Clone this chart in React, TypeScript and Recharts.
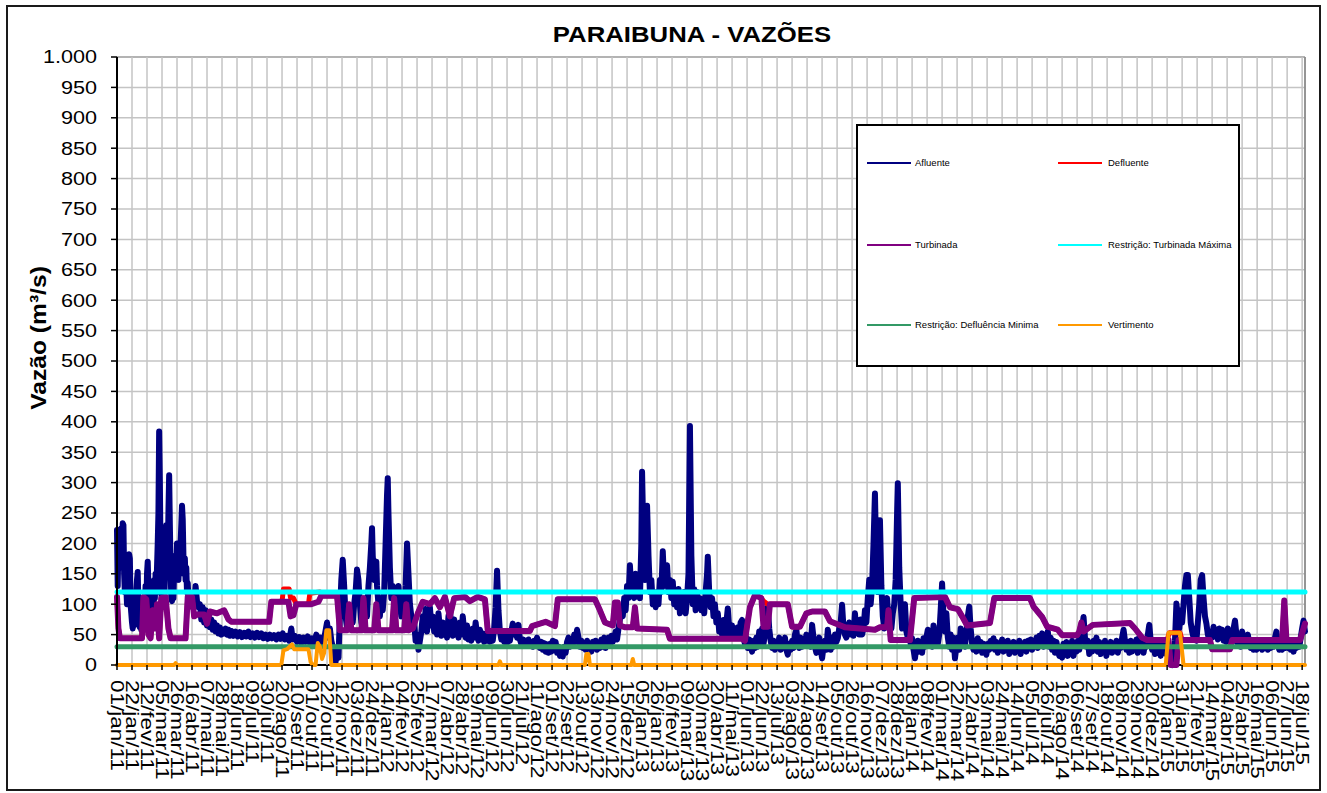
import React from 'react';
import { LineChart, Line, XAxis, YAxis, CartesianGrid, Legend, ReferenceLine } from 'recharts';

const FONT = '"Liberation Sans", Arial, sans-serif';

// x = day offset from 01/jan/11
const xTickLabels = [
  '01/jan/11','22/jan/11','12/fev/11','05/mar/11','26/mar/11','16/abr/11','07/mai/11','28/mai/11','18/jun/11','09/jul/11',
  '30/jul/11','20/ago/11','10/set/11','01/out/11','22/out/11','12/nov/11','03/dez/11','24/dez/11','14/jan/12','04/fev/12',
  '25/fev/12','17/mar/12','07/abr/12','28/abr/12','19/mai/12','09/jun/12','30/jun/12','21/jul/12','11/ago/12','01/set/12',
  '22/set/12','13/out/12','03/nov/12','24/nov/12','15/dez/12','05/jan/13','26/jan/13','16/fev/13','09/mar/13','30/mar/13',
  '20/abr/13','11/mai/13','01/jun/13','22/jun/13','13/jul/13','03/ago/13','24/ago/13','14/set/13','05/out/13','26/out/13',
  '16/nov/13','07/dez/13','28/dez/13','18/jan/14','08/fev/14','01/mar/14','22/mar/14','12/abr/14','03/mai/14','24/mai/14',
  '14/jun/14','05/jul/14','26/jul/14','16/ago/14','06/set/14','27/set/14','18/out/14','08/nov/14','29/nov/14','20/dez/14',
  '10/jan/15','31/jan/15','21/fev/15','14/mar/15','04/abr/15','25/abr/15','16/mai/15','06/jun/15','27/jun/15','18/jul/15',
];
const xTicks = xTickLabels.map((_, i) => i * 21);
const lastDay = 1663;

const yTicks = [0,50,100,150,200,250,300,350,400,450,500,550,600,650,700,750,800,850,900,950,1000];
const yTickLabels = ['0','50','100','150','200','250','300','350','400','450','500','550','600','650','700','750','800','850','900','950','1.000'];

const seriesNames = ['Afluente','Defluente','Turbinada','Restrição: Turbinada Máxima','Restrição: Defluência Minima','Vertimento'];
const seriesColors = ['#000080','#FF0000','#800080','#00FFFF','#339966','#FF9900'];

const afluente = [
  [0,222],[1,130],[2,205],[3,160],[4,218],[5,180],[6,225],[7,200],[8,233],[9,230],[10,150],[11,120],[12,165],[13,130],[14,100],[15,150],[16,120],[17,182],[18,175],[19,100],[20,85],
  [21,70],[22,60],[23,80],[24,65],[25,95],[26,70],[27,120],[28,140],[29,153],[30,100],[31,75],[32,62],[33,70],[34,58],[35,65],[36,55],[37,80],[38,60],[39,100],[40,130],[41,90],[42,150],[43,170],[44,130],[45,95],[46,80],[47,65],[48,90],[49,70],[50,110],[51,85],[52,140],[53,110],[54,150],[55,120],[56,160],[57,200],
  [58,250],[59,384],[60,300],[61,180],[62,120],[63,105],[64,150],[65,110],[66,100],[67,140],[68,200],[69,230],[70,150],[71,180],[72,250],[73,312],[74,230],[75,160],[76,110],[77,105],[78,130],[79,110],[80,160],[81,140],[82,180],[83,150],[84,200],[85,160],[86,140],[87,170],[88,150],[89,200],[90,230],[91,262],[92,240],[93,180],[94,150],[95,175],[96,140],[97,160],[98,120],[99,135],[100,110],[101,120],[102,100],[104,110],[106,95],[108,100],[110,130],[112,105],[114,95],[116,100],
  [118,75],[120,95],[122,70],[124,90],[126,65],[128,85],[130,62],[132,75],[134,58],[136,70],[138,55],[140,65],[142,52],[144,62],[146,50],[148,58],[150,52],[152,60],[154,50],[156,58],[158,48],[160,56],[163,48],[166,55],[169,47],[172,54],[175,46],[178,53],[181,47],[184,55],[187,46],[190,52],[193,45],[196,53],[199,46],[202,52],[205,44],[208,50],[211,43],[214,50],[217,44],[220,49],[223,42],[226,50],[229,43],[232,52],[235,42],[238,48],[241,40],[244,60],[246,42],[249,48],[252,38],[255,46],[258,36],[261,45],[264,38],[267,47],[270,36],[273,44],[276,35],[279,50],[282,38],[285,45],[288,36],[291,50],[294,70],[296,45],[298,60],[300,40],[302,30],[304,15],[306,5],[308,25],[310,12],
  [312,80],[314,140],[316,173],[318,130],[320,80],[322,60],[324,75],[326,60],[328,90],[330,70],[332,100],[334,120],[336,157],[338,140],[340,100],[342,70],[344,60],[346,90],[348,110],[350,80],[352,130],[354,160],[356,200],[357,225],[358,180],[360,140],[362,160],[363,170],[364,130],[366,100],[368,80],[370,110],[372,90],[374,120],[376,200],[378,280],[379,307],[380,250],[382,160],[384,110],[386,130],[388,100],[390,125],[392,95],[394,130],[396,100],[398,80],[400,110],[402,90],[404,130],[406,200],[408,150],[410,100],[412,80],[414,60],[416,70],[418,40],[420,50],[422,25],[424,40],[426,55],
  [428,80],[430,60],[432,92],[434,55],[436,85],[438,95],[440,65],[442,80],[444,55],[446,70],[448,50],[450,85],[452,60],[454,48],[456,70],[458,50],[460,65],[462,45],[464,80],[466,92],[468,60],[470,48],[472,75],[474,50],[476,65],[478,45],[480,70],[482,50],[484,80],[486,55],[488,45],[490,65],[492,42],[494,55],[496,40],[498,60],[500,45],[502,70],[504,48],[506,40],[508,58],[510,42],[512,52],[514,38],[516,50],[518,40],[520,55],[522,38],[524,48],[526,40],[528,60],[530,95],[532,155],[534,90],[536,55],
  [538,42],[540,50],[542,38],[544,48],[546,36],[548,45],[550,40],[552,55],[554,68],[556,50],[558,62],[560,45],[562,66],[564,42],[566,35],[568,42],[570,33],[572,40],[574,35],[576,42],[578,33],[580,38],[582,30],[584,40],[586,32],[588,45],[590,35],[592,28],[594,38],[596,25],[598,36],[600,22],[602,34],[604,20],[606,35],[608,22],[610,40],[612,25],[614,38],[616,20],[618,30],[620,15],[622,25],[624,14],[626,30],[628,20],[630,38],[632,45],[634,30],[636,40],[638,32],[640,50],[642,38],[644,58],[646,45],[648,30],[650,40],[652,28],[654,36],[656,25],[658,40],[660,28],[662,35],[664,22],[666,38],[668,28],[670,40],[672,25],[674,35],[676,28],[678,42],[680,30],[682,45],[684,28],[686,40],[688,45],[690,35],[692,48],[694,38],[696,45],[698,55],[700,42],[702,60],[704,75],
  [706,95],[708,80],[710,110],[712,90],[714,130],[716,110],[718,164],[720,120],[722,140],[724,110],[726,150],[728,120],[730,135],[732,110],[734,200],[735,318],[737,200],[739,140],[741,220],[742,262],[744,180],[746,120],[748,140],[750,100],[752,115],[754,95],[756,120],[758,100],[760,140],[762,120],[764,187],[766,130],[768,150],[770,164],[772,120],[774,140],[776,110],[778,137],[780,100],[782,120],[784,95],[786,125],[788,85],[790,110],[792,90],[794,120],[796,85],[798,110],[800,150],[802,393],[804,180],[806,100],[808,125],[810,90],[812,120],[814,95],[816,110],[818,90],[820,105],[822,85],[824,120],[826,150],[827,178],[829,120],[831,95],[833,110],[835,80],[837,100],[839,70],[841,85],[843,55],[845,70],[847,50],[849,74],[851,45],[853,70],[855,93],[857,60],[859,48],[861,65],[863,45],[865,60],[867,48],[869,62],
  [871,50],[873,70],[875,74],[877,45],[879,35],[881,45],[883,28],[885,42],[887,30],[889,22],[891,40],[893,28],[895,45],[897,30],[899,55],[901,40],[903,60],[905,35],[907,50],[909,70],[911,95],[913,60],[915,40],[917,28],[919,40],[921,25],[923,38],[925,30],[927,45],[929,25],[931,40],[933,30],[935,45],[937,25],[939,17],[941,35],[943,25],[945,40],[947,28],[949,50],[951,58],[953,35],[955,28],[957,45],[959,30],[961,40],[963,32],[965,50],[967,35],[969,45],[971,30],[973,66],[975,45],[977,30],[979,20],[981,35],[983,45],[985,25],[987,11],[989,30],[991,40],[993,25],[995,58],[997,35],[999,25],[1001,45],[1003,30],[1005,50],[1007,38],[1009,44],[1011,60],[1013,70],[1015,99],[1017,60],[1019,50],[1021,45],[1023,60],[1025,70],[1027,50],[1029,65],[1031,48],[1033,85],[1035,55],[1037,70],[1039,50],[1041,75],[1043,50],[1045,60],
  [1047,90],[1049,70],[1051,110],[1053,140],[1055,100],[1057,130],[1059,200],[1061,282],[1063,160],[1065,120],[1067,200],[1068,238],[1070,130],[1072,80],[1074,60],[1076,100],[1078,110],[1080,70],[1082,90],[1084,60],[1086,85],[1088,100],[1090,140],[1092,250],[1093,299],[1095,160],[1097,100],[1099,60],[1101,90],[1103,100],[1105,55],[1107,45],[1109,60],
  [1111,35],[1113,44],[1115,25],[1117,11],[1119,30],[1121,40],[1123,22],[1125,35],[1127,20],[1129,44],[1131,30],[1133,45],[1135,58],[1137,35],[1139,50],[1141,30],[1143,65],[1145,40],[1147,55],[1149,35],[1151,50],[1153,90],[1155,134],[1157,80],[1159,55],[1161,85],[1163,45],[1165,30],[1167,50],[1169,25],[1171,45],[1173,11],[1175,30],[1177,45],[1179,25],
  [1181,60],[1183,35],[1185,50],[1187,30],[1189,55],[1191,80],[1193,96],[1195,60],[1197,35],[1199,25],[1201,40],[1203,22],[1205,44],[1207,25],[1209,38],[1211,20],[1213,35],[1215,22],[1217,17],[1219,35],[1221,25],[1223,40],[1225,28],[1227,44],[1229,25],[1231,38],[1233,20],[1235,35],[1237,25],[1239,42],[1241,22],[1243,38],[1245,28],[1247,40],[1249,18],[1251,35],[1253,25],[1255,38],[1257,20],[1259,33],[1261,26],[1263,40],[1265,18],[1267,35],[1269,25],[1271,38],[1273,22],[1275,40],[1277,28],[1279,42],[1281,25],[1283,38],[1285,30],[1287,45],[1289,28],[1291,48],[1293,35],[1295,52],[1297,30],[1299,45],[1301,32],[1303,55],[1305,30],[1307,45],[1309,25],[1311,40],[1313,20],[1315,38],[1317,25],[1319,15],[1321,30],[1323,12],[1325,35],[1327,20],[1329,38],[1331,15],[1333,35],[1335,20],[1337,40],[1339,15],[1341,32],[1343,22],[1345,40],[1347,25],[1349,45],[1351,60],[1353,79],[1355,45],[1357,30],[1359,40],[1361,18],[1363,35],[1365,22],[1367,40],[1369,25],[1371,45],[1373,22],[1375,38],[1377,18],[1379,35],[1381,22],[1383,40],[1385,15],[1387,32],[1389,22],[1391,38],[1393,20],[1395,35],[1397,25],[1399,40],[1401,20],[1403,35],[1405,28],[1407,45],[1409,58],[1411,40],[1413,25],[1415,38],[1417,20],[1419,40],[1421,22],[1423,36],[1425,25],[1427,42],[1429,20],[1431,45],[1433,25],[1435,38],[1437,20],[1439,35],[1441,30],[1443,50],[1445,66],[1447,40],[1449,25],[1451,35],[1453,18],[1455,32],[1457,20],[1459,35],[1461,15],[1463,30],[1465,20],[1467,35],[1469,18],
  [1471,25],[1473,8],[1475,2],[1477,0],[1479,10],[1481,40],[1483,101],[1485,80],[1487,60],[1489,90],[1491,70],[1493,100],[1495,130],[1497,148],[1499,148],[1501,110],[1503,70],[1505,55],[1507,45],[1509,60],[1511,40],[1513,70],[1515,100],[1517,140],[1519,148],[1521,110],[1523,80],[1525,68],[1527,50],[1529,41],[1531,55],[1533,45],[1535,63],[1537,48],[1539,58],[1541,42],[1543,60],[1545,45],[1547,58],[1549,40],[1551,52],[1553,38],[1555,60],[1557,42],[1559,50],[1561,38],[1563,60],[1565,73],[1567,50],[1569,35],[1571,45],[1573,30],[1575,55],[1577,40],[1579,48],[1581,32],[1583,50],[1585,35],[1587,28],[1589,40],[1591,25],[1593,38],[1595,25],[1597,35],[1599,28],[1601,40],[1603,25],[1605,38],[1607,28],[1609,40],[1611,25],[1613,35],[1615,28],[1617,38],[1619,30],[1621,45],[1623,55],[1625,35],[1627,25],[1629,35],[1631,25],[1633,38],[1635,28],[1637,40],[1639,28],[1641,41],[1643,25],[1645,35],[1647,22],[1649,35],[1651,28],[1653,38],[1655,30],[1657,45],[1659,60],[1661,73],[1663,55],
];

const turbinada = [
  [0,112],[2,60],[4,44],[35,44],[37,112],[41,108],[44,50],[47,44],[50,90],[53,60],[56,100],[59,44],[62,110],[68,112],[72,60],[75,44],[96,44],[99,112],[105,112],[108,80],[112,83],[122,83],[126,68],[130,88],[140,85],[150,90],[156,75],[160,71],[213,71],[216,104],[240,104],[243,80],[247,82],[251,100],[272,100],[282,104],[286,114],[308,114],[312,57],[322,57],[325,100],[328,57],[342,57],[345,110],[348,57],[360,57],[363,100],[366,57],[385,57],[388,110],[391,57],[402,57],[405,100],[408,57],[414,60],[421,85],[428,104],[438,100],[445,110],[452,95],[459,112],[466,80],[472,110],[487,112],[494,105],[505,112],[515,108],[519,56],[578,56],[581,64],[592,68],[600,71],[613,64],[617,108],[669,108],[676,90],[683,70],[694,65],[697,103],[701,103],[704,65],[711,62],[722,62],[725,95],[728,60],[770,58],[774,43],[875,43],[879,40],[886,95],[893,115],[902,110],[905,63],[911,63],[914,100],[935,100],[939,100],[945,63],[956,63],[965,85],[973,88],[991,88],[998,72],[1019,62],[1061,58],[1068,62],[1078,62],[1080,90],[1083,41],[1110,41],[1116,110],[1159,112],[1166,95],[1177,92],[1183,80],[1190,65],[1222,69],[1228,110],[1278,110],[1283,96],[1295,79],[1302,63],[1317,58],[1323,49],[1344,49],[1347,55],[1350,70],[1353,55],[1366,66],[1418,69],[1425,60],[1435,45],[1442,41],[1472,41],[1475,0],[1483,0],[1486,41],[1530,41],[1533,26],[1558,26],[1561,41],[1631,41],[1634,106],[1637,41],[1656,41],[1663,68],
];

const defluente = [
  [0,112],[2,60],[4,44],[35,44],[37,112],[41,108],[44,50],[47,44],[50,90],[53,60],[56,100],[59,44],[62,110],[68,112],[72,60],[75,44],[96,44],[99,112],[105,112],[108,80],[112,83],[122,83],[126,68],[130,88],[140,85],[150,90],[156,75],[160,71],[213,71],[216,104],[231,104],[233,125],[241,125],[243,110],[247,110],[251,100],[268,100],[270,118],[284,120],[287,114],[308,114],[312,57],[322,57],[325,100],[328,57],[342,57],[345,110],[348,57],[360,57],[363,100],[366,57],[385,57],[388,110],[391,57],[402,57],[405,100],[408,57],[414,60],[421,85],[428,104],[438,100],[445,110],[452,95],[459,112],[466,80],[472,110],[487,112],[494,105],[505,112],[515,108],[519,56],[578,56],[581,64],[592,68],[600,71],[613,64],[617,108],[669,108],[676,90],[683,70],[694,65],[697,103],[701,103],[704,65],[711,62],[722,62],[725,95],[728,60],[770,58],[774,43],[875,43],[879,40],[886,95],[893,115],[902,110],[905,105],[911,100],[914,100],[935,100],[939,100],[945,63],[956,63],[965,85],[973,88],[991,88],[998,72],[1019,62],[1061,58],[1068,62],[1078,62],[1080,90],[1083,41],[1110,41],[1116,110],[1159,112],[1166,95],[1177,92],[1183,80],[1190,65],[1222,69],[1228,110],[1278,110],[1283,96],[1295,79],[1302,63],[1317,58],[1323,49],[1344,49],[1347,55],[1350,70],[1353,55],[1366,66],[1418,69],[1425,60],[1435,45],[1442,41],[1470,41],[1473,53],[1488,53],[1491,41],[1530,41],[1533,26],[1558,26],[1561,41],[1631,41],[1634,106],[1637,41],[1656,41],[1663,68],
];

const turbinadaMaxima = [[0,120],[1663,120]];
const defluenciaMinima = [[0,30],[1663,30]];

const vertimento = [
  [0,0],[80,0],[82,3],[84,0],[230,0],[233,24],[238,26],[245,34],[248,26],[268,26],[271,5],[274,0],[278,0],[281,36],[284,30],[287,10],[290,20],[293,57],[297,57],[300,0],[534,0],[536,6],[538,0],[655,0],[657,18],[660,18],[662,0],[720,0],[722,10],[724,0],[1468,0],[1472,53],[1488,53],[1493,0],[1663,0],
];

const rows = (pts: number[][]) => pts.map(([d, v]) => ({ d, v }));

const XTick = (props: any) => {
  const { x, y, payload } = props;
  const label = xTickLabels[Math.round(payload.value / 21)] ?? '';
  return (
    <g transform={`translate(${x},${y}) rotate(90)`}>
      <text x={0} y={0} transform="scale(1.25,1)" textAnchor="start" dominantBaseline="central"
        fontSize={18} fontFamily={FONT} fill="#000">{label}</text>
    </g>
  );
};

const YTick = (props: any) => {
  const { x, y, payload } = props;
  const idx = yTicks.indexOf(payload.value);
  return (
    <g transform={`translate(${x},${y})`}>
      <text x={0} y={0} transform="scale(1.2,1)" textAnchor="end" dominantBaseline="central"
        fontSize={18} fontFamily={FONT} fill="#000">{yTickLabels[idx]}</text>
    </g>
  );
};

// horizontal grid lines; the one at the bottom doubles as the category axis line (kept under the series)
const HLine = (props: any) => {
  const { x1, y1, x2, y2 } = props;
  const isBottom = y1 > 660;
  const isTop = y1 < 60;
  return (
    <line x1={x1} y1={y1} x2={x2} y2={y2}
      stroke={isBottom ? '#000' : isTop ? '#9a9a9a' : '#c4c4c4'}
      strokeWidth={isBottom ? 2 : 1.5} />
  );
};

const LegendBox = () => {
  const rowsY = [37, 119, 199];
  const colLine = [9, 200];
  const colText = [57, 250];
  return (
    <div style={{ width: 384, height: 243, border: '2px solid #000', boxSizing: 'border-box', background: '#fff', position: 'relative', fontFamily: FONT }}>
      {seriesNames.map((name, i) => {
        const r = Math.floor(i / 2);
        const c = i % 2;
        return (
          <React.Fragment key={name}>
            <div style={{ position: 'absolute', left: colLine[c], top: rowsY[r] - 1, width: 44, height: 2, background: seriesColors[i] }} />
            <div style={{ position: 'absolute', left: colText[c], top: rowsY[r] - 7, fontSize: 9.5, lineHeight: '14px', color: '#000', whiteSpace: 'nowrap' }}>{name}</div>
          </React.Fragment>
        );
      })}
    </div>
  );
};

export default function App() {
  const lineCommon = { type: 'linear' as const, dataKey: 'v', dot: false, activeDot: false, isAnimationActive: false, strokeLinejoin: 'round', strokeLinecap: 'round' } as any;
  return (
    <div style={{ position: 'absolute', left: 0, top: 0, width: 1327, height: 793, background: '#fff', fontFamily: FONT }}>
      <div style={{ position: 'absolute', left: 6, top: 5, width: 1315, height: 786, border: '2px solid #1a1a1a', boxSizing: 'border-box' }} />
      <div style={{ position: 'absolute', left: 0, top: 0 }}>
        <LineChart width={1327} height={793} margin={{ top: 57, right: 22, bottom: 0, left: 0 }}>
          <CartesianGrid stroke="#c4c4c4" strokeWidth={1.5} horizontal={HLine} />
          <XAxis dataKey="d" type="number" domain={[0, lastDay]} ticks={xTicks} interval={0}
            height={128} tickSize={5} tickMargin={10} tick={<XTick />} axisLine={false}
            tickLine={{ stroke: '#000', strokeWidth: 1.5 }} />
          <YAxis type="number" domain={[0, 1000]} ticks={yTicks} interval={0} width={117}
            tickSize={6} tickMargin={14} tick={<YTick />} axisLine={{ stroke: '#000', strokeWidth: 2 }}
            tickLine={{ stroke: '#000', strokeWidth: 1.5 }} />
          <ReferenceLine x={lastDay} stroke="#808080" strokeWidth={1.5} />
          <Line {...lineCommon} data={rows(afluente)} name={seriesNames[0]} stroke={seriesColors[0]} strokeWidth={6} />
          <Line {...lineCommon} data={rows(defluente)} name={seriesNames[1]} stroke={seriesColors[1]} strokeWidth={5} />
          <Line {...lineCommon} data={rows(turbinada)} name={seriesNames[2]} stroke={seriesColors[2]} strokeWidth={6} />
          <Line {...lineCommon} data={rows(turbinadaMaxima)} name={seriesNames[3]} stroke={seriesColors[3]} strokeWidth={5} />
          <Line {...lineCommon} data={rows(defluenciaMinima)} name={seriesNames[4]} stroke={seriesColors[4]} strokeWidth={5} />
          <Line {...lineCommon} data={rows(vertimento)} name={seriesNames[5]} stroke={seriesColors[5]} strokeWidth={4} />
          <Legend layout="vertical" align="center" verticalAlign="middle"
            wrapperStyle={{ position: 'absolute', left: 856, top: 124, width: 384, height: 243 }}
            content={() => <LegendBox />} />
        </LineChart>
      </div>
      <svg width={1327} height={793} style={{ position: 'absolute', left: 0, top: 0, pointerEvents: 'none' }}>
        <text transform="translate(692,42) scale(1.17,1)" textAnchor="middle" fontSize={22} fontWeight="bold" fontFamily={FONT} fill="#000">PARAIBUNA - VAZÕES</text>
        <text transform="translate(46,338) rotate(-90) scale(1.12,1)" textAnchor="middle" fontSize={22} fontWeight="bold" fontFamily={FONT} fill="#000">Vazão (m³/s)</text>
      </svg>
    </div>
  );
}
